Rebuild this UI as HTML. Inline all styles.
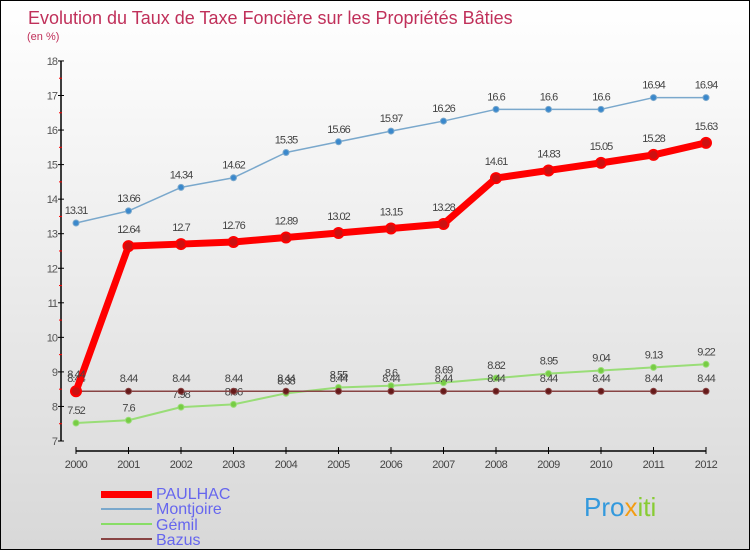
<!DOCTYPE html>
<html><head><meta charset="utf-8"><style>
body{margin:0}
#c{width:750px;height:550px;position:relative;box-sizing:border-box;border:1px solid #000;background:linear-gradient(#fff,#d8d8d8);font-family:"Liberation Sans","DejaVu Sans",sans-serif;overflow:hidden}
</style></head><body>
<div id="c">
<svg id="s" width="750" height="550" style="position:absolute;left:0;top:0">
<text x="27" y="23" font-size="18" fill="#c0305a">Evolution du Taux de Taxe Foncière sur les Propriétés Bâties</text>
<text x="26" y="39" font-size="11" fill="#c0305a">(en %)</text>
<text x="155" y="498" font-size="16" fill="#6666ee">PAULHAC</text>
<text x="155" y="513" font-size="16" fill="#6666ee">Montjoire</text>
<text x="155" y="529" font-size="16" fill="#6666ee">Gémil</text>
<text x="155" y="544" font-size="16" fill="#6666ee">Bazus</text>
<rect x="100" y="490" width="51" height="7" fill="#f00"/>
<rect x="100" y="507" width="51" height="2" fill="#7aa8cc"/>
<rect x="100" y="522" width="51" height="2" fill="#88dd66"/>
<rect x="100" y="537" width="51" height="2" fill="#884444"/>
<text x="583" y="515" font-size="26" fill="#3399dd">Pro<tspan fill="#f39c12">x</tspan><tspan fill="#88cc33">iti</tspan></text>
</svg>
</div>
<script>
const years=[2000,2001,2002,2003,2004,2005,2006,2007,2008,2009,2010,2011,2012];
const paulhac=[8.44,12.64,12.7,12.76,12.89,13.02,13.15,13.28,14.61,14.83,15.05,15.28,15.63];
const montjoire=[13.31,13.66,14.34,14.62,15.35,15.66,15.97,16.26,16.6,16.6,16.6,16.94,16.94];
const gemil=[7.52,7.6,7.98,8.06,8.38,8.55,8.6,8.69,8.82,8.95,9.04,9.13,9.22];
const bazus=[8.44,8.44,8.44,8.44,8.44,8.44,8.44,8.44,8.44,8.44,8.44,8.44,8.44];
const yTicks=[7,8,9,10,11,12,13,14,15,16,17,18];
const NS='http://www.w3.org/2000/svg';
const svg=document.getElementById('s');
const X=y=>75+(y-2000)*52.5;
const Y=v=>440-(v-7)*34.55;
function mk(t,a,p){const e=document.createElementNS(NS,t);for(const k in a)e.setAttribute(k,a[k]);(p||svg).appendChild(e);return e;}
let ax=mk('line',{x1:60,y1:Y(18),x2:60,y2:440,stroke:'#000','stroke-width':1.5});


let bx=mk('line',{x1:75,y1:450,x2:705,y2:450,stroke:'#000','stroke-width':1.5});


yTicks.forEach(v=>{
 mk('line',{x1:57,y1:Y(v),x2:63,y2:Y(v),stroke:'#000'});
 if(v<18)mk('line',{x1:58,y1:Y(v+0.5),x2:61,y2:Y(v+0.5),stroke:'#f00'});
 const t=mk('text',{x:56,y:Y(v)+4,'font-size':11,fill:'#555','text-anchor':'end','letter-spacing':'-1'});
 t.textContent=v;
 
 
});
years.forEach(y=>{
 mk('line',{x1:X(y),y1:446,x2:X(y),y2:453,stroke:'#000'});
 const t=mk('text',{x:X(y),y:467,'font-size':11,fill:'#444','text-anchor':'middle','letter-spacing':'-0.5'});
 t.textContent=y;
 
 
});
function series(name,vals,color,w,r,dot,labOff){
 const g=mk('g',{});
 
 
 const pl=mk('polyline',{points:vals.map((v,i)=>X(years[i])+','+Y(v)).join(' '),fill:'none',stroke:color,'stroke-width':w,'stroke-linejoin':'round'},g);
 
 
 vals.forEach((v,i)=>{
  const c=mk('circle',{cx:X(years[i]),cy:Y(v),r:r,fill:dot,stroke:color,'stroke-width':r>4?2:1},g);
  
  
  const t=mk('text',{x:X(years[i]),y:Y(v)-labOff,'font-size':11,fill:'#444','text-anchor':'middle','letter-spacing':'-1'},g);
  t.textContent=v;
  
  
 });
}
series('montjoire',montjoire,'#7aa8cc',1.5,3,'#3a88cc',9);
series('gemil',gemil,'#99dd77',2,3,'#77cc44',9);
series('bazus',bazus,'#884444',1.5,3,'#661a1a',9);
series('paulhac',paulhac,'#f00',7,5,'#cc1111',13);
</script>
</body></html>
